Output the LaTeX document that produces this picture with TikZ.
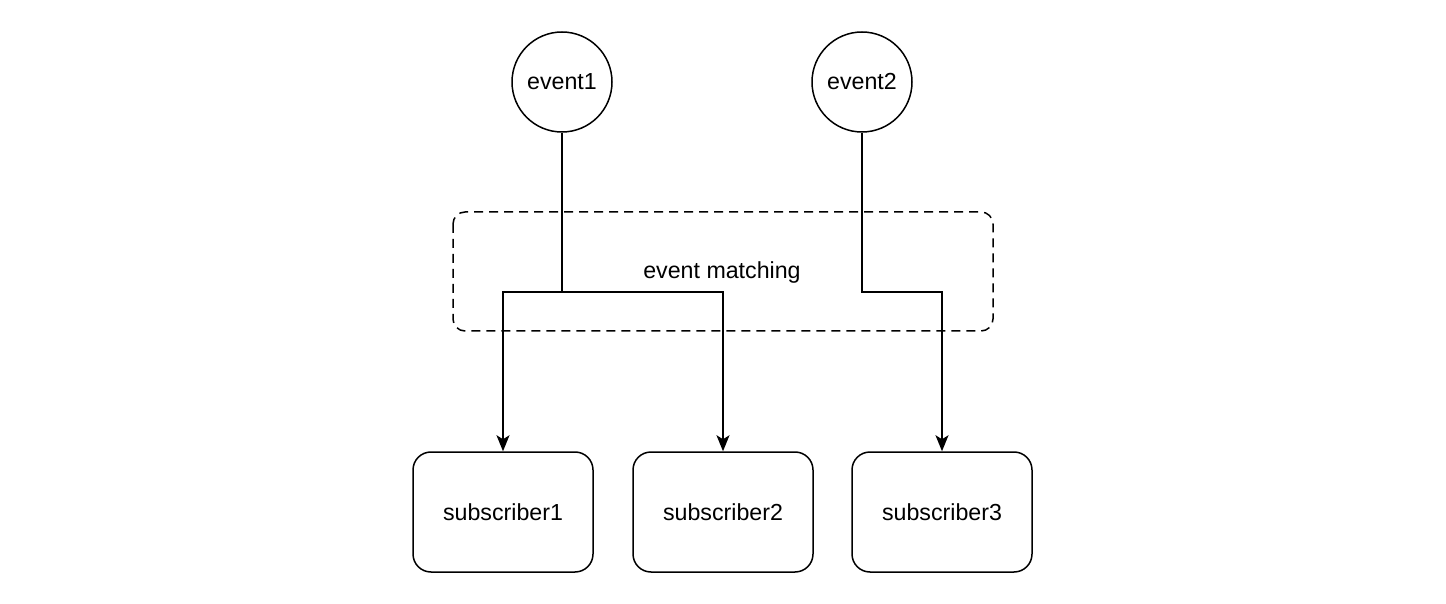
\documentclass[tikz,border=0pt]{standalone}
\usepackage{fontspec}
\setmainfont{Liberation Sans}
\usetikzlibrary{
  arrows.meta,%
  calc,%
  positioning%
}
\tikzset{>={Stealth[length=8pt, width=6.5pt, inset=2pt]}}
\tikzset{font=\fontsize{11.6}{14}\selectfont}
\tikzset{eventnode/.style={draw, circle, line width=0.75pt, minimum size=50pt, inner sep=0pt},
  subbox/.style={draw, rectangle, rounded corners=9pt, line width=0.75pt, minimum width=90pt, minimum height=60pt},
  flow/.style={line width=0.75pt}}

\begin{document}
\begin{tikzpicture}[x=0.5pt, y=-0.5pt]
          \useasboundingbox[fill=white] (0, 0) rectangle (1446, 604); %
          \draw[line width=0.75pt, dash pattern=on 4.5pt off 3pt, rounded corners=6pt] (453, 212) rectangle (993, 331); %
          \node (match) at (722, 273) {event matching}; %
          \node[eventnode] (event1) at (562, 82) {event1}; %
          \node[eventnode] (event2) at (862, 82) {event2}; %
          \node[subbox] (sub1) at (503, 512) {subscriber1}; %
          \node[subbox] (sub2) at (723, 512) {subscriber2}; %
          \node[subbox] (sub3) at (942, 512) {subscriber3}; %
          \coordinate (split1) at (562, 292); %
          \coordinate (split2) at (862, 292); %
          \draw[flow] (event1.south) -- (split1); %
          \draw[flow, ->] (split1) -| (sub1.north); %
          \draw[flow, ->] (split1) -| (sub2.north); %
          \draw[flow, ->] (event2.south) -- (split2) -| (sub3.north); %
        \end{tikzpicture}
\end{document}
